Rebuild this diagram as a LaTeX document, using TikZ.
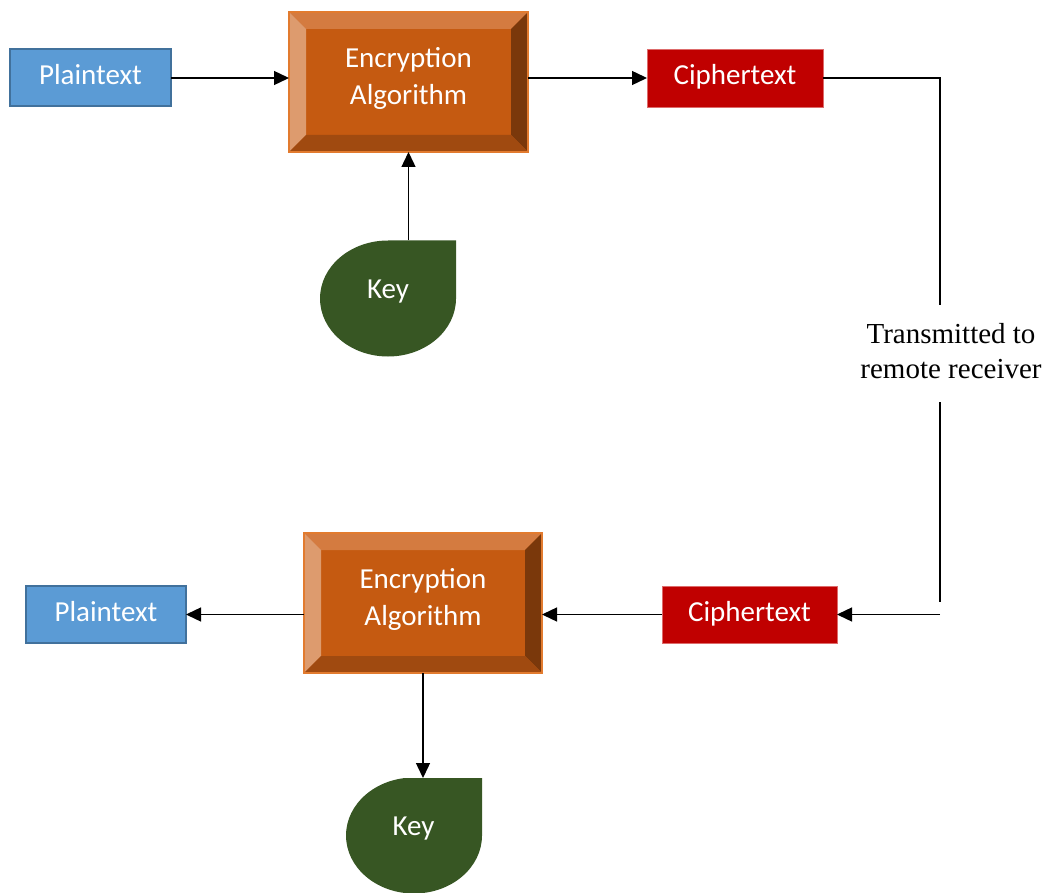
\documentclass[tikz,border=0pt]{standalone}
\usepackage{fontspec}
\setmainfont{Liberation Serif}
\newfontfamily\calfont{Carlito}
\usetikzlibrary{arrows.meta,calc}
\definecolor{plainfill}{HTML}{5B9BD5}
\definecolor{plainline}{HTML}{41719C}
\definecolor{encmain}{HTML}{C55A11}
\definecolor{enctop}{HTML}{D47B40}
\definecolor{encleft}{HTML}{DD9B6E}
\definecolor{encright}{HTML}{7A380B}
\definecolor{encbottom}{HTML}{A04A10}
\definecolor{encline}{HTML}{E27B2F}
\definecolor{ciphfill}{HTML}{C00000}
\definecolor{ciphline}{HTML}{DD6B6B}
\definecolor{keyfill}{HTML}{375623}
\newcommand\encbevel[1]{%
 \fill[enctop] (#1.north west) -- (#1.north east) -- ([shift={(-17,17)}]#1.north east) -- ([shift={(17,17)}]#1.north west) -- cycle;
 \fill[encleft] (#1.north west) -- ([shift={(17,17)}]#1.north west) -- ([shift={(17,-17)}]#1.south west) -- (#1.south west) -- cycle;
 \fill[encright] (#1.north east) -- (#1.south east) -- ([shift={(-17,-17)}]#1.south east) -- ([shift={(-17,17)}]#1.north east) -- cycle;
 \fill[encbottom] (#1.south west) -- (#1.south east) -- ([shift={(-17,-17)}]#1.south east) -- ([shift={(17,-17)}]#1.south west) -- cycle;
 \draw[encline, line width=2pt] (#1.north west) rectangle (#1.south east);}
\begin{document}
\begin{tikzpicture}[x=1pt,y=-1pt,
 boxtext/.style={font=\calfont\fontsize{29}{37}\selectfont, text=white},
 plainbox/.style={boxtext, fill=plainfill, draw=plainline, line width=2pt, inner sep=0pt, outer sep=0pt, minimum width=161pt, minimum height=57pt, text height=19pt, text depth=5pt},
 ciphbox/.style={boxtext, fill=ciphfill, draw=ciphline, line width=0.8pt, inner sep=0pt, outer sep=0pt, minimum width=176pt, minimum height=58pt, text height=19pt, text depth=5pt},
 encbox/.style={fill=encmain, draw=encline, line width=2pt, minimum width=239pt, minimum height=140pt, inner sep=0pt, outer sep=0pt},
 enctext/.style={boxtext, align=center, inner sep=0pt},
 keybox/.style={boxtext, minimum width=136pt, minimum height=116pt, inner sep=0pt, outer sep=0pt, text height=12pt, text depth=12pt,
   path picture={\fill[keyfill] (path picture bounding box.north east) -- (path picture bounding box.east)
     arc[start angle=0,end angle=-90,x radius=68pt,y radius=58pt]
     arc[start angle=-90,end angle=-180,x radius=68pt,y radius=58pt]
     arc[start angle=180,end angle=90,x radius=68pt,y radius=58pt] -- cycle;}},
 txt/.style={font=\fontsize{29}{35}\selectfont, align=center, inner sep=0pt},
 arr/.style={-{Triangle[length=15pt,width=14pt]}, line width=1.4pt},
 link/.style={line width=1.4pt}
]
\useasboundingbox (0,0) rectangle (1051,893);
% top row
\node[plainbox] (p1) at (90.5,78) {Plaintext};
\node[encbox] (enc1) at (408.5,82) {};
\encbevel{enc1}
\node[enctext] (enc1t) at ([yshift=4pt]enc1.center) {Encryption\\Algorithm};
\node[ciphbox] (c1) at (735,78) {Ciphertext};
\node[keybox] (key1) at (388,298.5) {Key};
% transmission
\node[txt] (tx) at (951,351) {Transmitted to\\remote receiver};
\coordinate (r1) at (940,78);
\coordinate (r2) at (940,305);
\coordinate (r3) at (940,402);
\coordinate (r4) at (940,602);
\coordinate (r5) at (940,614);
% bottom row
\node[plainbox, minimum width=160pt] (p2) at (106,614.5) {Plaintext};
\node[encbox, minimum width=238pt] (enc2) at (423,603) {};
\encbevel{enc2}
\node[enctext] (enc2t) at ([yshift=4pt]enc2.center) {Encryption\\Algorithm};
\node[ciphbox, minimum width=175pt, minimum height=57pt] (c2) at (749.5,614.5) {Ciphertext};
\node[keybox, minimum width=137pt, minimum height=115pt] (key2) at (413.5,835.5) {Key};
% connectors
\draw[arr] (p1.east) -- (p1.east -| enc1.west);
\draw[arr] (c1.west -| enc1.east) -- (c1.west);
\draw[arr] (key1.north -| enc1.south) -- (enc1.south);
\draw[link] (c1.east) -- (c1.east -| r1) -- (r2);
\draw[link] (r3) -- (r4);
\draw[arr] (c2.east -| r5) -- (c2.east);
\draw[arr] (c2.west) -- (c2.west -| enc2.east);
\draw[arr] (p2.east -| enc2.west) -- (p2.east);
\draw[arr] (enc2.south) -- (enc2.south |- key2.north);
\end{tikzpicture}
\end{document}
